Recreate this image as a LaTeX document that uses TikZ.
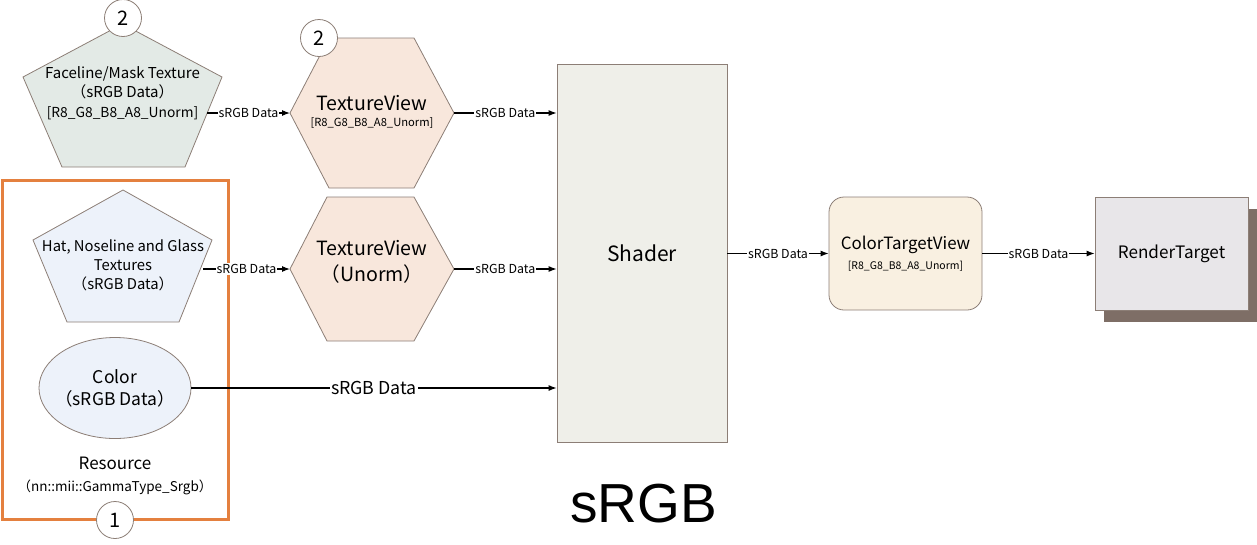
\documentclass[tikz,border=0pt]{standalone}
\usepackage{fontspec}
\setmainfont{Noto Sans CJK JP}
\newfontfamily\bigsans{Liberation Sans}
\usetikzlibrary{arrows.meta,positioning,shapes.geometric,shadows}

\definecolor{edgeGray}{HTML}{8C7E76}
\definecolor{faceFill}{HTML}{E3EAE6}
\definecolor{hatFill}{HTML}{EDF2FA}
\definecolor{viewFill}{HTML}{F8E7DC}
\definecolor{shaderFill}{HTML}{EFEFE9}
\definecolor{targetFill}{HTML}{F9F0E1}
\definecolor{rtFill}{HTML}{E8E6E9}
\definecolor{rtShadow}{HTML}{7E6E66}
\definecolor{resOrange}{HTML}{E4803F}

\newcommand{\setfs}[2]{\fontsize{#1}{#2}\selectfont}

\begin{document}
\begin{tikzpicture}[x = 1pt, y = -1pt,
    outline/.style = {draw = edgeGray, line width = 0.8pt},
    blockbox/.style = {outline, rectangle, inner sep = 0pt, align = center},
    txt/.style = {align = center, inner sep = 0pt},
    num/.style = {circle, draw = edgeGray, fill = white, line width = 0.8pt, minimum size = 37pt, inner sep = 0pt, font = \setfs{20}{20}},
    flow/.style = {line width = 1.1pt, -{Latex[length = 8pt, width = 6pt]}},
    lbl/.style = {fill = white, inner sep = 1pt, font = \setfs{12.4}{13}}]
  \useasboundingbox (0,0) rectangle (1257,544);

  % resources
  \draw[outline, fill = faceFill] (122.5,24) -- (222,77) -- (185,167) -- (62,167) -- (23,77) -- cycle;
  \node[txt, font = \setfs{15}{19.5}] (face) at (122.5,93) {Faceline/Mask Texture\\（sRGB Data）\\{\setfs{13.8}{14}{[}R8\_G8\_B8\_A8\_Unorm{]}}};
  \node[num] (numFace) at (123,18) {2};
  \coordinate (faceOut) at (207,113);

  \draw[outline, fill = hatFill] (123,190) -- (212,240) -- (179,322) -- (67,322) -- (33,240) -- cycle;
  \node[txt, font = \setfs{14.8}{19}] (hat) at (123,265) {Hat, Noseline and Glass\\Textures\\（sRGB Data）};
  \coordinate (hatOut) at (203,269);

  \node[outline, ellipse, fill = hatFill, minimum width = 152, minimum height = 101, inner sep = 0pt] (color) at (115,388) {};
  \node[txt, font = \setfs{17.5}{22}] (colorTxt) at (color) {Color\\（sRGB Data）};

  \node[txt, font = \setfs{17}{17}] (res) at (115,463) {Resource};
  \node[txt, font = \setfs{13.5}{14}] (gamma) at (115,487) {（nn::mii::GammaType\_Srgb）};
  \draw[resOrange, line width = 3pt] (2,180) rectangle (228,519);
  \node[num] (numRes) at (115,520) {1};

  % texture views
  \coordinate (viewAw) at (290,113);
  \coordinate (viewAe) at (454,113);
  \draw[outline, fill = viewFill] (viewAw) -- (329,38) -- (414,38) -- (viewAe) -- (414,188) -- (329,188) -- cycle;
  \node[txt, font = \setfs{19.6}{20}] (viewA) at (372,103) {TextureView};
  \node[txt, font = \setfs{11.2}{12}] (viewAfmt) at (372,123) {{[}R8\_G8\_B8\_A8\_Unorm{]}};
  \node[num] (numView) at (319,38) {2};

  \coordinate (viewBw) at (290,269);
  \coordinate (viewBe) at (454,269);
  \draw[outline, fill = viewFill] (viewBw) -- (327,197) -- (414,197) -- (viewBe) -- (414,341) -- (327,341) -- cycle;
  \node[txt, font = \setfs{19.6}{26}] (viewB) at (372,262) {TextureView\\（Unorm）};

  % shader and targets
  \node[blockbox, fill = shaderFill, minimum width = 170, minimum height = 378, font = \setfs{21}{21}] (shader) at (642,253) {Shader};
  \node[blockbox, fill = targetFill, rounded corners = 15pt, minimum width = 153, minimum height = 113, font = \setfs{16.9}{20}] (ctv) at (905.5,253.5) {ColorTargetView\\{\setfs{10.5}{11}{[}R8\_G8\_B8\_A8\_Unorm{]}}};
  \node[blockbox, fill = rtFill, minimum width = 153, minimum height = 113, font = \setfs{17.1}{18},
        drop shadow = {shadow xshift = 9pt, shadow yshift = -12pt, fill = rtShadow, opacity = 1}] (rt) at (1171.5,253.5) {RenderTarget};

  \draw[flow] (faceOut) -- node[lbl] {sRGB Data} (viewAw);
  \draw[flow] (viewAe) -- node[lbl] {sRGB Data} (viewAe -| shader.west);
  \draw[flow] (hatOut) -- node[lbl] {sRGB Data} (viewBw);
  \draw[flow] (viewBe) -- node[lbl] {sRGB Data} (viewBe -| shader.west);
  \draw[flow] (color.east) -- node[lbl, font = \setfs{17.8}{18}] {sRGB Data} (color.east -| shader.west);
  \draw[flow] (shader.east |- ctv.west) -- node[lbl] {sRGB Data} (ctv.west);
  \draw[flow] (ctv.east) -- node[lbl] {sRGB Data} (rt.west);

  \node[font = \bigsans\setfs{55}{55}, anchor = base] (title) at (643.5,522) {sRGB};
\end{tikzpicture}
\end{document}
